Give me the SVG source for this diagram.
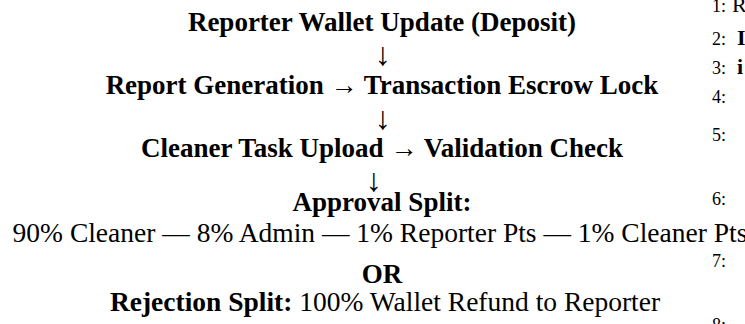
<svg xmlns="http://www.w3.org/2000/svg" width="745" height="324" viewBox="0 0 745 324">
<style>
text{font-family:"Liberation Serif","Times New Roman",serif;fill:#000}
.b{font-weight:bold;font-size:27px}
.r{font-size:27.5px}
.c{text-anchor:middle}
.a{font-size:32px}
.n{font-size:18px}
.nb{font-size:22px;font-weight:bold}
</style>
<rect width="745" height="324" fill="#fff"/>
<g id="n1"><text class="b c" x="382" y="31">Reporter Wallet Update (Deposit)</text></g>
<g id="connectors">
<text class="a c" x="383" y="65">↓</text>
<text class="a c" x="383" y="129">↓</text>
<text class="a c" x="374" y="191">↓</text>
</g>
<g id="n2"><text class="b c" x="382" y="94">Report Generation → Transaction Escrow Lock</text></g>
<g id="n3"><text class="b c" x="382" y="157">Cleaner Task Upload → Validation Check</text></g>
<g id="n4">
<text class="b c" x="382" y="211">Approval Split:</text>
<text class="r c" x="380" y="242">90% Cleaner — 8% Admin — 1% Reporter Pts — 1% Cleaner Pts</text>
</g>
<g id="n5"><text class="b c" x="382" y="283">OR</text></g>
<g id="n6"><text class="c r" x="385" y="311"><tspan font-weight="bold">Rejection Split:</tspan> 100% Wallet Refund to Reporter</text></g>
<g id="lines">
<text class="n" x="712" y="12">1:<tspan x="732" font-size="22px">R</tspan></text>
<text class="n" x="712" y="45">2:<tspan class="nb" x="737">I</tspan></text>
<text class="n" x="712" y="74">3:<tspan class="nb" x="737">i</tspan></text>
<text class="n" x="712" y="103">4:</text>
<text class="n" x="712" y="141">5:</text>
<text class="n" x="712" y="205">6:</text>
<text class="n" x="712" y="267">7:</text>
<text class="n" x="712" y="331">8:</text>
</g>
</svg>
